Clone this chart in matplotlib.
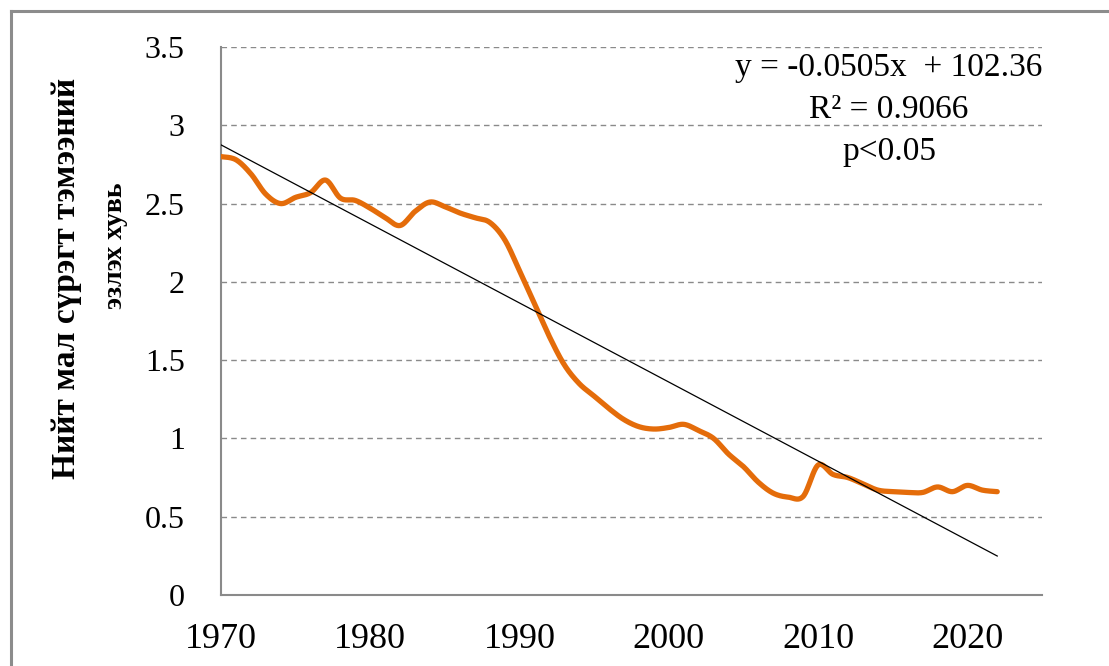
import matplotlib.pyplot as plt
from matplotlib.lines import Line2D
import numpy as np

# camel share of total livestock, %
years = list(range(1970, 2023))
share = [2.80, 2.78, 2.69, 2.56, 2.50, 2.54, 2.57, 2.65, 2.535, 2.52,
         2.47, 2.41, 2.36, 2.45, 2.51, 2.48, 2.44, 2.41, 2.38, 2.27,
         2.07, 1.86, 1.65, 1.47, 1.35, 1.27, 1.19, 1.12, 1.075, 1.06,
         1.07, 1.09, 1.05, 1.00, 0.90, 0.82, 0.72, 0.65, 0.625, 0.63,
         0.83, 0.77, 0.75, 0.71, 0.67, 0.66, 0.655, 0.655, 0.69, 0.66,
         0.70, 0.67, 0.66]
slope = -0.0505
intercept = 102.36
eq_lines = ['y = -0.0505x  + 102.36', 'R² = 0.9066', 'p<0.05']
ylabel1 = 'Нийт мал сүрэгт тэмээний'
ylabel2 = 'эзлэх хувь'


def smooth(x, y, n=20):
    # catmull-rom, similar to excel's smoothed line
    x = np.asarray(x, float)
    y = np.asarray(y, float)
    px = np.concatenate([[x[0]], x, [x[-1]]])
    py = np.concatenate([[y[0]], y, [y[-1]]])
    t = np.linspace(0, 1, n, endpoint=False)
    xs, ys = [], []
    for i in range(1, len(px) - 2):
        for p, out in ((px, xs), (py, ys)):
            p0, p1, p2, p3 = p[i - 1], p[i], p[i + 1], p[i + 2]
            out.extend(0.5 * (2 * p1 + (-p0 + p2) * t
                              + (2 * p0 - 5 * p1 + 4 * p2 - p3) * t ** 2
                              + (-p0 + 3 * p1 - 3 * p2 + p3) * t ** 3))
    xs.append(x[-1])
    ys.append(y[-1])
    return np.array(xs), np.array(ys)


plt.rcParams['font.family'] = ['Liberation Serif', 'DejaVu Serif']

fig = plt.figure(figsize=(11.09, 6.66), dpi=100)
ax = fig.add_axes([0.1993, 0.1066, 0.7403, 0.8228])

sx, sy = smooth(years, share)
ax.plot(sx, sy, color='#E46C0A', lw=3.8, solid_capstyle='round', zorder=3)
tx = np.array([years[0], years[-1]])
ax.plot(tx, slope * tx + intercept, color='black', lw=0.9, zorder=4)

ax.set_xlim(1970, 2025)
ax.set_ylim(0, 3.5)
ax.set_xticks(range(1970, 2021, 10))
ax.set_yticks(np.arange(0, 3.51, 0.5))
ax.set_yticklabels(['0', '0.5', '1', '1.5', '2', '2.5', '3', '3.5'])
ax.tick_params(axis='x', length=0, labelsize=26, pad=20)
ax.tick_params(axis='y', length=0, labelsize=23, pad=26)
for v in np.arange(0.5, 3.51, 0.5):
    ax.axhline(v, color='#8a8a8a', lw=1.0, ls=(0, (4, 3)), zorder=1)
for s in ['top', 'right']:
    ax.spines[s].set_visible(False)
for s in ['left', 'bottom']:
    ax.spines[s].set_color('#8a8a8a')
    ax.spines[s].set_linewidth(1.5)

W, H = 1109, 666
fig.text(67 / W, 1 - 278 / H, ylabel1, rotation=90, fontsize=24,
         fontweight='bold', ha='center', va='center')
fig.text(115 / W, 1 - 246 / H, ylabel2, rotation=90, fontsize=20,
         fontweight='bold', ha='center', va='center')
for i, s in enumerate(eq_lines):
    fig.text(889 / W, 1 - (68 + 42 * i) / H, s, fontsize=24,
             ha='center', va='center')

# outer chart frame
fig.add_artist(Line2D([11 / W, 1], [1 - 11 / H, 1 - 11 / H],
                      color='#8c8c8c', lw=2.2, transform=fig.transFigure))
fig.add_artist(Line2D([11 / W, 11 / W], [0, 1 - 11 / H],
                      color='#8c8c8c', lw=2.2, transform=fig.transFigure))

fig.savefig('out.png', dpi=100)
